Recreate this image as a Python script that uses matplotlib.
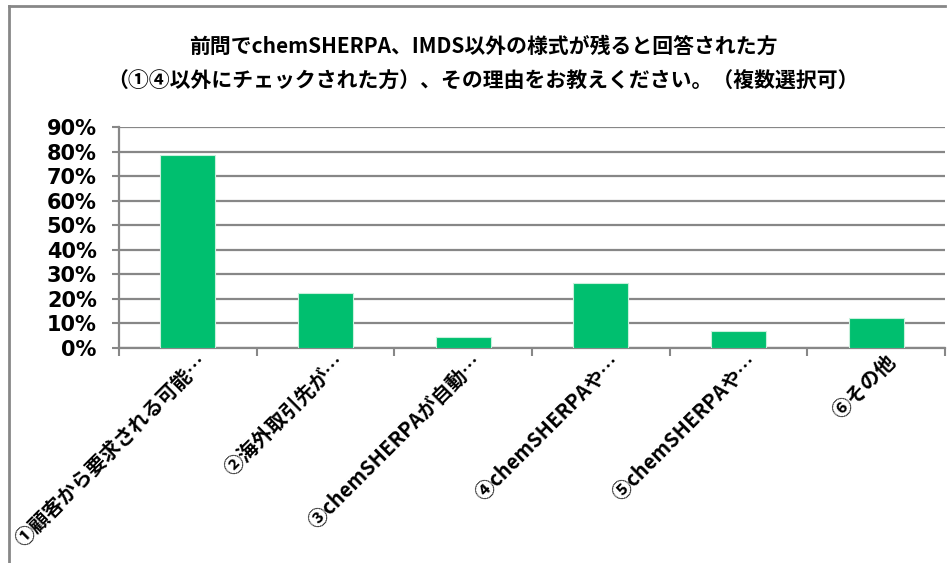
import numpy as np
import matplotlib.pyplot as plt
from matplotlib.lines import Line2D

plt.rcParams['font.family'] = ['Noto Sans CJK JP', 'DejaVu Sans']

# data
categories = ['①顧客から要求される可能…', '②海外取引先が…', '③chemSHERPAが自動…',
              '④chemSHERPAや…', '⑤chemSHERPAや…', '⑥その他']
values = [0.787, 0.224, 0.045, 0.266, 0.070, 0.123]
yticks = [0, 0.1, 0.2, 0.3, 0.4, 0.5, 0.6, 0.7, 0.8, 0.9]
title = ('前問でchemSHERPA、IMDS以外の様式が残ると回答された方\n'
         '（①④以外にチェックされた方）、その理由をお教えください。（複数選択可）')

W, H = 952, 563
fig = plt.figure(figsize=(W / 100, H / 100), dpi=100)
ax = fig.add_axes([119 / W, 1 - 348 / H, (945 - 119) / W, (348 - 127) / H])

grey = '#878787'
x = np.arange(len(categories))
ax.bar(x, values, width=0.4, color='#00bf6f', edgecolor='#c8f0dc', linewidth=0.8, zorder=3)

ax.set_xlim(-0.5, len(categories) - 0.5)
ax.set_ylim(0, 0.9)
ax.set_yticks(yticks)
ax.set_yticklabels([f'{int(round(v * 100))}%' for v in yticks],
                   fontsize=15, fontweight='bold', family='DejaVu Sans')
ax.yaxis.grid(True, color=grey, linewidth=1.6, zorder=0)
ax.set_axisbelow(True)

# category boundary ticks, Excel style
ax.set_xticks(np.arange(len(categories) + 1) - 0.5)
ax.set_xticklabels([])
ax.tick_params(axis='x', length=6, width=1.5, color=grey, direction='out')
ax.tick_params(axis='y', length=5, width=1.5, color=grey, direction='out', pad=11)

for s in ['top', 'right']:
    ax.spines[s].set_visible(False)
for s in ['left', 'bottom']:
    ax.spines[s].set_color(grey)
    ax.spines[s].set_linewidth(1.6)

for i, lab in enumerate(categories):
    ax.annotate(lab, xy=(i, 0), xycoords=('data', 'axes fraction'),
                xytext=(6, -2), textcoords='offset points',
                rotation=45, rotation_mode='anchor', ha='right', va='top',
                fontsize=14.5, fontweight='bold')

fig.text(483 / W, 1 - 64 / H, title, ha='center', va='center', fontsize=15,
         fontweight='bold', linespacing=1.8)

# outer chart border (top and left visible)
fig.add_artist(Line2D([9 / W, 945 / W], [1 - 6 / H, 1 - 6 / H], color=grey, linewidth=2))
fig.add_artist(Line2D([9 / W, 9 / W], [1 - 6 / H, 0], color=grey, linewidth=2))

fig.savefig('out.png', dpi=100)
